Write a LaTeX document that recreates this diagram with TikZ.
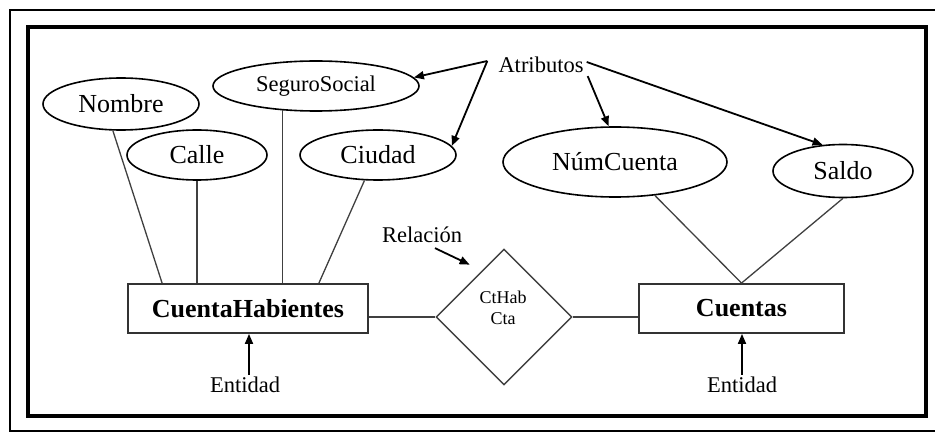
\documentclass[tikz,border=0pt]{standalone}
\usepackage{fontspec}
\setmainfont{Liberation Serif}
\usetikzlibrary{shapes.geometric,arrows.meta}
\begin{document}
\begin{tikzpicture}[x=1pt,y=-1pt,
  attr/.style={ellipse,draw=black,line width=1.6pt,inner sep=0pt,font=\fontsize{26}{30}\selectfont},
  entity/.style={rectangle,draw=black!80,line width=1.8pt,inner sep=0pt,font=\bfseries\fontsize{26}{30}\selectfont},
  relship/.style={diamond,draw=black!75,line width=1.4pt,inner sep=0pt},
  link/.style={draw=black!75,line width=1.3pt},
  note/.style={inner sep=0pt,font=\fontsize{22.5}{26}\selectfont},
  pointer/.style={line width=1.8pt,-{Triangle[length=10pt,width=8pt]}}]
\useasboundingbox (0,0) rectangle (935,433);
\fill[white] (0,0) rectangle (935,433);

% double frame
\draw[line width=2.5pt] (10,10) rectangle (945,431);
\draw[line width=3.5pt] (28,27) rectangle (926,416);

% attributes
\node[attr,minimum width=156pt,minimum height=52pt] (nombre) at (121,104) {Nombre};
\node[attr,minimum width=206pt,minimum height=50pt,font=\fontsize{22.5}{26}\selectfont] (seguro) at (316,86) {SeguroSocial};
\node[attr,minimum width=140pt,minimum height=50pt] (calle) at (197,155) {Calle};
\node[attr,minimum width=156pt,minimum height=50pt] (ciudad) at (378,155) {Ciudad};
\node[attr,minimum width=224pt,minimum height=70pt] (numc) at (615,162) {NúmCuenta};
\node[attr,minimum width=140pt,minimum height=53pt] (saldo) at (843,171) {Saldo};

% entities
\node[entity,minimum width=240pt,minimum height=49pt] (ch) at (248,308.5) {CuentaHabientes};
\node[entity,minimum width=205pt,minimum height=49pt] (cu) at (741.5,308.5) {Cuentas};

% relationship
\node[relship,minimum width=136pt,minimum height=136pt] (rel) at (504,317) {};
\node[inner sep=0pt,align=center,font=\fontsize{18}{21}\selectfont] (reltxt) at (503,307.5) {CtHab\\Cta};

% annotations
\node[note] (atr) at (541,65) {Atributos};
\node[note] (rlab) at (422,235) {Relación};
\node[note] (ent1) at (245,385) {Entidad};
\node[note] (ent2) at (742,385) {Entidad};

% attribute links
\draw[link] (nombre.253) -- ([xshift=35pt]ch.north west);
\draw[link] (calle.south) -- (calle.south |- ch.north);
\draw[link] (seguro.216) -- (seguro.216 |- ch.north);
\draw[link] (ciudad.242) -- ([xshift=-50pt]ch.north east);
\draw[link] (numc.320) -- (cu.north);
\draw[link] (saldo.south) -- (cu.north);

% relationship links
\draw[link] (ch.east |- rel.west) -- (rel.west);
\draw[link] (rel.east) -- (rel.east -| cu.west);

% pointers from the annotations
\draw[pointer] ([shift={(-11pt,4pt)}]atr.west) -- (seguro.5);
\draw[pointer] ([shift={(-11pt,4pt)}]atr.west) -- (ciudad.7);
\draw[pointer] ([shift={(4pt,-3pt)}]atr.south east) -- (numc.100);
\draw[pointer] ([shift={(3pt,3pt)}]atr.east) -- (saldo.128);
\draw[pointer] ([shift={(13pt,-5pt)}]rlab.south) -- ([yshift=18pt]rel.north west);
\draw[pointer] ([shift={(4pt,2pt)}]ent1.north) -- ([xshift=4pt]ent1.north |- ch.south);
\draw[pointer] ([yshift=2pt]ent2.north) -- (ent2.north |- cu.south);
\end{tikzpicture}
\end{document}
